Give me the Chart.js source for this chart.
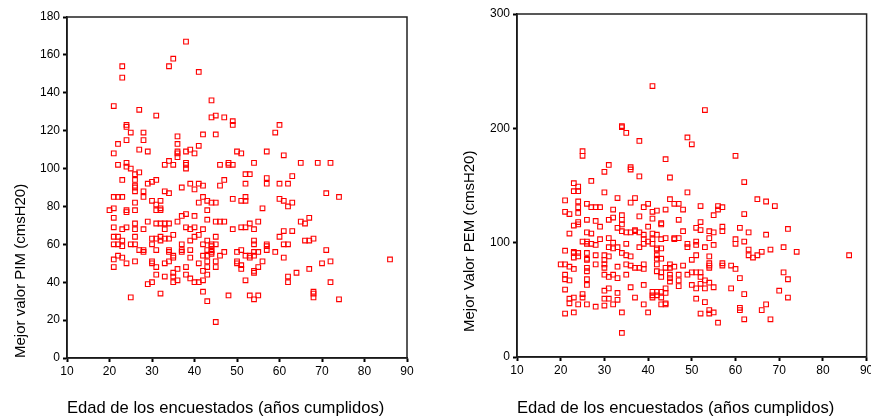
<!DOCTYPE html>
<html>
<head>
<meta charset="utf-8">
<script src="https://cdn.jsdelivr.net/npm/chart.js@4.4.1/dist/chart.umd.min.js"></script>
<style>
  body { margin: 0; background: #fff; }
  .panel { position: absolute; top: 0; height: 417px; }
  #pimBox { left: 0; width: 430px; }
  #pemBox { left: 440px; width: 431px; }
</style>
</head>
<body>
<div class="panel" id="pimBox"><canvas id="pimChart"></canvas></div>
<div class="panel" id="pemBox"><canvas id="pemChart"></canvas></div>
<script>
// Edad (x) y mejor valor PIM (y)
const pimAge = [
    38,35,34,23,23,41,44,21,27,31,45,44,47,49,49,60,59,24,24,25,28,36,42,45,
    22,24,28,36,27,29,21,36,36,36,38,39,40,41,50,51,57,61,34,33,35,38,38,38,22,24,24,25,46,48,48,49,54,65,69,72,
    26,27,26,26,26,26,23,29,30,31,33,34,28,28,37,39,40,41,42,46,47,52,53,52,57,57,60,62,63,71,74,
    21,22,23,20,21,21,24,24,26,26,30,32,31,32,32,31,42,41,43,44,45,43,49,51,52,52,56,60,61,62,63,
    21,23,26,28,24,26,29,31,32,33,34,33,36,37,38,40,43,45,46,47,38,40,42,39,49,51,52,53,54,55,65,67,66,61,63,
    21,22,26,30,31,32,33,34,35,40,41,45,60,68,23,32,39,43,54,66,67,
    21,22,25,26,30,37,42,44,44,45,54,57,57,61,62,
    23,27,28,28,31,34,34,35,37,37,39,43,44,44,44,43,42,47,51,50,52,53,53,54,54,55,57,59,61,71,
    21,22,23,24,26,30,30,31,33,34,35,39,41,43,43,45,45,46,50,50,51,51,56,55,54,54,70,72,67,86,
    21,31,33,35,36,35,38,38,42,43,39,62,64,
    29,30,35,36,40,41,42,52,62,72,
    25,32,42,43,48,53,54,55,68,68,68,74,45
];
const pimValue = [
    167,158,154,154,148,151,136,133,131,128,128,127,127,125,123,123,119,123,122,119,119,117,118,118,
    113,115,115,113,110,109,108,109,108,106,109,110,108,112,109,108,109,107,104,102,102,103,102,100,102,103,101,100,102,103,102,102,103,103,103,103,
    97,98,94,91,90,88,94,92,93,94,88,87,88,85,90,92,89,92,91,91,94,97,97,92,95,92,92,92,96,87,85,
    85,85,85,78,79,74,78,77,82,78,83,83,81,79,78,78,85,82,83,82,82,78,84,83,83,85,79,84,83,80,82,
    69,68,68,68,69,71,72,71,71,71,71,68,72,75,76,75,73,72,72,72,69,69,68,68,68,69,69,71,68,72,72,74,71,67,67,
    64,64,64,63,63,64,63,63,65,64,65,64,64,63,62,62,62,62,62,62,62,
    60,60,60,60,60,60,60,60,59,60,60,60,59,60,60,
    59,57,57,56,57,57,56,54,57,56,57,57,57,56,55,54,54,56,57,56,54,54,53,56,54,56,57,56,53,57,
    52,54,53,50,51,51,50,48,50,51,53,53,50,51,48,51,48,54,51,50,49,47,51,48,46,45,50,51,47,52,
    48,44,43,45,47,43,48,44,46,44,42,43,45,
    39,40,40,41,40,40,41,41,40,40,
    32,34,35,30,33,33,31,33,35,34,32,31,19
];

// Edad (x) y mejor valor PEM (y)
const pemAge = [
    41,53,34,34,35,38,49,50,25,25,60,44,31,30,36,36,38,45,27,23,24,23,24,30,62,49,
    21,24,24,24,21,22,26,27,28,29,33,36,37,32,39,40,41,42,44,45,46,47,48,52,56,56,57,65,67,69,62,55,
    32,31,34,34,34,38,41,43,43,47,26,28,29,23,24,24,22,26,27,29,31,32,
    33,34,35,36,37,37,38,39,40,41,42,43,41,39,40,44,46,46,47,48,51,52,52,54,55,54,57,57,61,63,67,72,
    25,26,26,27,28,31,33,35,49,49,51,51,53,55,60,62,60,21,23,63,66,68,71,74,38,32,42,42,43,41,39,
    23,24,23,24,26,26,28,30,31,30,34,35,36,42,42,43,50,51,54,63,64,65,86,
    20,21,22,23,26,26,28,30,30,33,35,36,37,38,39,39,42,42,43,43,44,45,45,46,48,54,54,54,57,57,59,60,
    21,21,22,26,26,26,30,31,32,33,35,45,45,45,47,47,47,49,50,51,52,52,53,54,52,53,55,50,51,61,71,72,
    21,22,22,23,24,25,25,26,28,30,30,30,31,31,32,33,33,36,37,39,39,41,41,41,42,42,43,43,43,44,44,44,44,51,53,59,62,70,72,67,66,
    21,23,34,40,52,54,54,55,61,61,62,56,68,34
];
const pemValue = [
    237,216,201,202,196,189,192,186,180,176,176,173,168,162,166,164,158,157,154,152,149,145,145,144,153,144,
    137,136,131,126,127,125,134,131,131,131,139,135,139,129,131,134,127,128,129,138,134,134,129,132,132,129,131,138,136,132,125,124,
    122,120,124,120,116,123,121,117,116,120,120,119,114,115,118,116,108,109,108,103,104,100,
    113,110,109,109,111,110,109,107,114,108,107,103,103,103,101,104,104,103,104,110,113,118,111,110,109,104,114,110,113,109,107,112,
    101,101,99,99,98,96,96,99,99,96,101,98,96,98,103,101,99,93,92,94,92,94,96,92,96,95,95,94,95,99,99,
    91,91,87,88,91,86,89,89,88,85,91,89,88,89,86,86,85,89,88,89,87,89,89,
    81,81,79,77,85,78,81,81,78,79,81,80,78,78,81,77,81,75,74,70,78,81,78,79,80,82,80,78,82,80,80,77,
    72,68,67,75,68,63,72,70,72,69,72,72,69,66,72,67,62,72,74,74,74,70,67,65,64,60,61,63,60,69,74,68,
    59,51,47,52,46,55,52,46,44,58,51,45,60,51,46,56,50,61,52,63,46,57,54,52,57,54,57,52,46,60,56,47,46,51,48,60,55,58,52,46,41,
    38,39,39,39,38,41,38,39,43,41,33,30,33,21
];

const xTitle = 'Edad de los encuestados (años cumplidos)';
const pimTitle = 'Mejor valor PIM (cmsH20)';
const pemTitle = '      Mejor Valor PEM (cmsH20)';

const FONT = "'Liberation Sans', Arial, sans-serif";

// caja alrededor del area de trazado
const frame = {
    id: 'frame',
    afterDatasetsDraw(chart) {
        const { ctx, chartArea: a } = chart;
        ctx.save();
        ctx.strokeStyle = '#222';
        ctx.lineWidth = 1.5;
        ctx.strokeRect(a.left, a.top, a.right - a.left, a.bottom - a.top);
        ctx.restore();
    }
};

function makeChart(canvasId, ages, values, cfg) {
    const points = ages.map((a, i) => ({ x: a, y: values[i] }));
    return new Chart(document.getElementById(canvasId), {
        type: 'scatter',
        data: {
            datasets: [{
                data: points,
                pointStyle: 'rect',
                pointRadius: 3.3,
                pointHoverRadius: 3.3,
                borderColor: '#ff0000',
                backgroundColor: 'rgba(0,0,0,0)',
                borderWidth: 1.1,
            }]
        },
        options: {
            responsive: true,
            maintainAspectRatio: false,
            animation: false,
            events: [],
            layout: { padding: cfg.padding },
            plugins: { legend: { display: false }, tooltip: { enabled: false } },
            scales: {
                x: {
                    type: 'linear',
                    min: 10,
                    max: 90,
                    ticks: { stepSize: 10, color: '#000', font: { family: FONT, size: 12 }, padding: 2, maxRotation: 0 },
                    grid: { drawOnChartArea: false, tickLength: 4, tickWidth: 2, tickColor: '#000' },
                    border: { color: '#000', width: 1.5 },
                    title: {
                        display: true, text: xTitle, align: 'start', color: '#000',
                        font: { family: FONT, size: 16.6 }, padding: { top: 0, bottom: -1 }
                    },
                    afterFit(scale) {
                        scale.height = cfg.xHeight;
                        scale.paddingLeft = 0;
                        scale.paddingRight = 0;
                    }
                },
                y: {
                    min: 0,
                    max: cfg.yMax,
                    ticks: { stepSize: cfg.yStep, color: '#000', font: { family: FONT, size: 12 }, padding: 3 },
                    grid: { drawOnChartArea: false, tickLength: 4, tickWidth: 2, tickColor: '#000' },
                    border: { color: '#000', width: 1.5 },
                    title: {
                        display: true, text: cfg.yTitle, align: 'start', color: '#000',
                        font: { family: FONT, size: 15 }, padding: { top: cfg.titlePad, bottom: 0 }
                    },
                    afterFit(scale) {
                        scale.width = cfg.yWidth;
                        scale.paddingTop = 0;
                        scale.paddingBottom = 0;
                    }
                }
            }
        },
        plugins: [frame]
    });
}

makeChart('pimChart', pimAge, pimValue, {
    yMax: 180, yStep: 20, yTitle: pimTitle,
    padding: { left: 0, right: 23, top: 17, bottom: 0 },
    yWidth: 67, xHeight: 59, titlePad: 12
});

makeChart('pemChart', pemAge, pemValue, {
    yMax: 300, yStep: 100, yTitle: pemTitle,
    padding: { left: 0, right: 3, top: 14, bottom: 0 },
    yWidth: 77, xHeight: 60, titlePad: 21
});
</script>
</body>
</html>
